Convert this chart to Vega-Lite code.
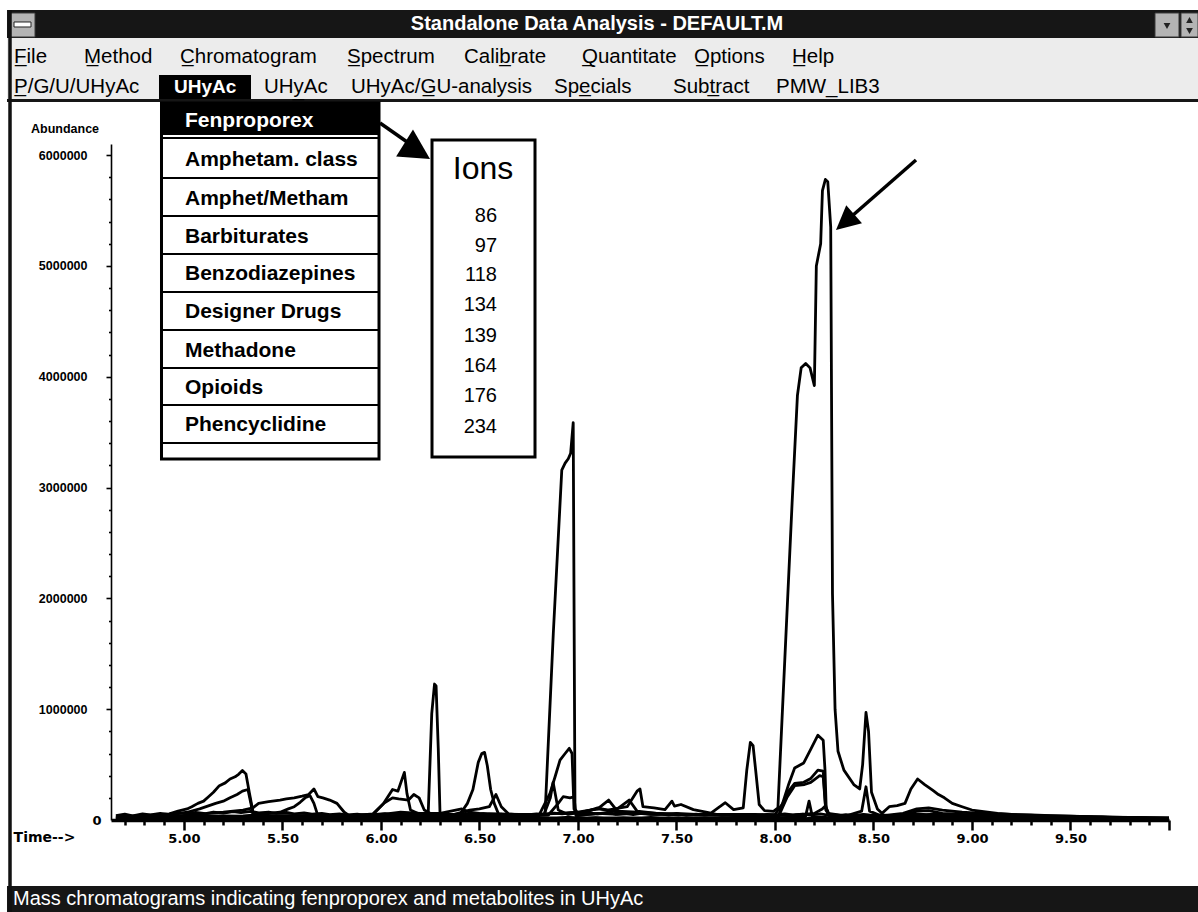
{
  "$schema": "https://vega.github.io/schema/vega-lite/v6.json",
  "width": 1058,
  "height": 676,
  "autosize": {"type": "none"},
  "padding": {"left": 111, "top": 144, "right": 29, "bottom": 92},
  "background": "white",
  "config": {"view": {"stroke": null}, "axis": {"grid": false}},
  "datasets": {
    "chrom": [
      {"ion":"118","t":4.655,"a":30000},{"ion":"118","t":4.70,"a":32000},{"ion":"118","t":4.75,"a":28000},{"ion":"118","t":4.80,"a":35000},{"ion":"118","t":4.85,"a":33000},{"ion":"118","t":4.90,"a":38000},{"ion":"118","t":4.95,"a":34000},{"ion":"118","t":5.00,"a":36000},{"ion":"118","t":5.05,"a":40000},{"ion":"118","t":5.10,"a":35000},{"ion":"118","t":5.20,"a":38000},{"ion":"118","t":5.30,"a":34000},{"ion":"118","t":5.40,"a":40000},{"ion":"118","t":5.50,"a":36000},{"ion":"118","t":5.60,"a":38000},{"ion":"118","t":5.70,"a":35000},{"ion":"118","t":5.80,"a":40000},{"ion":"118","t":5.90,"a":42000},{"ion":"118","t":6.00,"a":45000},{"ion":"118","t":6.10,"a":40000},{"ion":"118","t":6.20,"a":48000},{"ion":"118","t":6.24,"a":56000},{"ion":"118","t":6.258,"a":960000},{"ion":"118","t":6.272,"a":1227000},{"ion":"118","t":6.28,"a":1210000},{"ion":"118","t":6.291,"a":650000},{"ion":"118","t":6.30,"a":56000},{"ion":"118","t":6.35,"a":50000},{"ion":"118","t":6.40,"a":45000},{"ion":"118","t":6.50,"a":52000},{"ion":"118","t":6.60,"a":45000},{"ion":"118","t":6.70,"a":42000},{"ion":"118","t":6.80,"a":45000},{"ion":"118","t":6.833,"a":50000},{"ion":"118","t":6.875,"a":1685000},{"ion":"118","t":6.918,"a":3158000},{"ion":"118","t":6.935,"a":3220000},{"ion":"118","t":6.951,"a":3260000},{"ion":"118","t":6.963,"a":3310000},{"ion":"118","t":6.976,"a":3585000},{"ion":"118","t":6.985,"a":100000},{"ion":"118","t":7.00,"a":60000},{"ion":"118","t":7.05,"a":85000},{"ion":"118","t":7.10,"a":100000},{"ion":"118","t":7.15,"a":90000},{"ion":"118","t":7.20,"a":105000},{"ion":"118","t":7.25,"a":120000},{"ion":"118","t":7.30,"a":260000},{"ion":"118","t":7.315,"a":280000},{"ion":"118","t":7.33,"a":120000},{"ion":"118","t":7.386,"a":110000},{"ion":"118","t":7.442,"a":94000},{"ion":"118","t":7.477,"a":170000},{"ion":"118","t":7.49,"a":125000},{"ion":"118","t":7.523,"a":140000},{"ion":"118","t":7.586,"a":94000},{"ion":"118","t":7.675,"a":62000},{"ion":"118","t":7.748,"a":156000},{"ion":"118","t":7.79,"a":94000},{"ion":"118","t":7.839,"a":110000},{"ion":"118","t":7.857,"a":450000},{"ion":"118","t":7.875,"a":700000},{"ion":"118","t":7.889,"a":670000},{"ion":"118","t":7.902,"a":450000},{"ion":"118","t":7.92,"a":140000},{"ion":"118","t":7.947,"a":84000},{"ion":"118","t":7.993,"a":78000},{"ion":"118","t":8.015,"a":110000},{"ion":"118","t":8.05,"a":1450000},{"ion":"118","t":8.087,"a":2860000},{"ion":"118","t":8.114,"a":3830000},{"ion":"118","t":8.133,"a":4080000},{"ion":"118","t":8.156,"a":4120000},{"ion":"118","t":8.178,"a":4080000},{"ion":"118","t":8.20,"a":3920000},{"ion":"118","t":8.21,"a":5000000},{"ion":"118","t":8.232,"a":5200000},{"ion":"118","t":8.241,"a":5680000},{"ion":"118","t":8.256,"a":5780000},{"ion":"118","t":8.268,"a":5760000},{"ion":"118","t":8.283,"a":5350000},{"ion":"118","t":8.292,"a":2040000},{"ion":"118","t":8.305,"a":1000000},{"ion":"118","t":8.32,"a":620000},{"ion":"118","t":8.35,"a":450000},{"ion":"118","t":8.40,"a":320000},{"ion":"118","t":8.43,"a":280000},{"ion":"118","t":8.445,"a":500000},{"ion":"118","t":8.462,"a":970000},{"ion":"118","t":8.475,"a":800000},{"ion":"118","t":8.49,"a":250000},{"ion":"118","t":8.52,"a":100000},{"ion":"118","t":8.543,"a":60000},{"ion":"118","t":8.58,"a":120000},{"ion":"118","t":8.62,"a":130000},{"ion":"118","t":8.66,"a":150000},{"ion":"118","t":8.69,"a":280000},{"ion":"118","t":8.724,"a":370000},{"ion":"118","t":8.76,"a":320000},{"ion":"118","t":8.80,"a":270000},{"ion":"118","t":8.83,"a":230000},{"ion":"118","t":8.86,"a":200000},{"ion":"118","t":8.90,"a":150000},{"ion":"118","t":8.95,"a":120000},{"ion":"118","t":9.00,"a":90000},{"ion":"118","t":9.06,"a":75000},{"ion":"118","t":9.13,"a":60000},{"ion":"118","t":9.20,"a":50000},{"ion":"118","t":9.30,"a":45000},{"ion":"118","t":9.40,"a":40000},{"ion":"118","t":9.49,"a":35000},{"ion":"118","t":9.58,"a":30000},{"ion":"118","t":9.67,"a":25000},{"ion":"118","t":9.80,"a":20000},{"ion":"118","t":9.90,"a":20000},{"ion":"118","t":10.0,"a":15000},

      {"ion":"86","t":4.655,"a":25000},{"ion":"86","t":4.72,"a":35000},{"ion":"86","t":4.78,"a":40000},{"ion":"86","t":4.85,"a":45000},{"ion":"86","t":4.926,"a":56000},{"ion":"86","t":4.97,"a":80000},{"ion":"86","t":5.016,"a":100000},{"ion":"86","t":5.04,"a":120000},{"ion":"86","t":5.071,"a":150000},{"ion":"86","t":5.10,"a":170000},{"ion":"86","t":5.125,"a":210000},{"ion":"86","t":5.15,"a":250000},{"ion":"86","t":5.18,"a":310000},{"ion":"86","t":5.21,"a":335000},{"ion":"86","t":5.234,"a":370000},{"ion":"86","t":5.26,"a":390000},{"ion":"86","t":5.279,"a":415000},{"ion":"86","t":5.297,"a":446000},{"ion":"86","t":5.315,"a":415000},{"ion":"86","t":5.333,"a":240000},{"ion":"86","t":5.351,"a":70000},{"ion":"86","t":5.38,"a":25000},{"ion":"86","t":5.45,"a":30000},{"ion":"86","t":5.55,"a":35000},{"ion":"86","t":5.65,"a":40000},{"ion":"86","t":5.75,"a":35000},{"ion":"86","t":5.85,"a":30000},{"ion":"86","t":5.95,"a":40000},{"ion":"86","t":6.05,"a":35000},{"ion":"86","t":6.15,"a":40000},{"ion":"86","t":6.25,"a":35000},{"ion":"86","t":6.35,"a":40000},{"ion":"86","t":6.45,"a":35000},{"ion":"86","t":6.55,"a":40000},{"ion":"86","t":6.65,"a":35000},{"ion":"86","t":6.75,"a":40000},{"ion":"86","t":6.85,"a":45000},{"ion":"86","t":6.90,"a":150000},{"ion":"86","t":6.925,"a":210000},{"ion":"86","t":6.96,"a":200000},{"ion":"86","t":6.98,"a":210000},{"ion":"86","t":6.99,"a":40000},{"ion":"86","t":7.05,"a":50000},{"ion":"86","t":7.15,"a":60000},{"ion":"86","t":7.20,"a":100000},{"ion":"86","t":7.26,"a":180000},{"ion":"86","t":7.30,"a":80000},{"ion":"86","t":7.40,"a":60000},{"ion":"86","t":7.50,"a":50000},{"ion":"86","t":7.60,"a":50000},{"ion":"86","t":7.70,"a":50000},{"ion":"86","t":7.80,"a":50000},{"ion":"86","t":7.90,"a":45000},{"ion":"86","t":8.00,"a":40000},{"ion":"86","t":8.10,"a":45000},{"ion":"86","t":8.20,"a":60000},{"ion":"86","t":8.24,"a":100000},{"ion":"86","t":8.254,"a":125000},{"ion":"86","t":8.27,"a":60000},{"ion":"86","t":8.35,"a":40000},{"ion":"86","t":8.45,"a":40000},{"ion":"86","t":8.55,"a":35000},{"ion":"86","t":8.65,"a":40000},{"ion":"86","t":8.72,"a":80000},{"ion":"86","t":8.78,"a":84000},{"ion":"86","t":8.85,"a":60000},{"ion":"86","t":8.95,"a":50000},{"ion":"86","t":9.10,"a":40000},{"ion":"86","t":9.30,"a":35000},{"ion":"86","t":9.50,"a":30000},{"ion":"86","t":9.70,"a":20000},{"ion":"86","t":9.90,"a":15000},{"ion":"86","t":10.0,"a":15000},

      {"ion":"97","t":4.655,"a":20000},{"ion":"97","t":4.80,"a":30000},{"ion":"97","t":4.90,"a":40000},{"ion":"97","t":5.016,"a":70000},{"ion":"97","t":5.08,"a":100000},{"ion":"97","t":5.161,"a":150000},{"ion":"97","t":5.20,"a":170000},{"ion":"97","t":5.234,"a":200000},{"ion":"97","t":5.27,"a":230000},{"ion":"97","t":5.297,"a":260000},{"ion":"97","t":5.325,"a":275000},{"ion":"97","t":5.34,"a":150000},{"ion":"97","t":5.351,"a":40000},{"ion":"97","t":5.40,"a":35000},{"ion":"97","t":5.50,"a":40000},{"ion":"97","t":5.60,"a":40000},{"ion":"97","t":5.70,"a":45000},{"ion":"97","t":5.80,"a":40000},{"ion":"97","t":5.90,"a":45000},{"ion":"97","t":6.00,"a":50000},{"ion":"97","t":6.05,"a":60000},{"ion":"97","t":6.10,"a":70000},{"ion":"97","t":6.20,"a":60000},{"ion":"97","t":6.30,"a":60000},{"ion":"97","t":6.41,"a":100000},{"ion":"97","t":6.45,"a":70000},{"ion":"97","t":6.50,"a":60000},{"ion":"97","t":6.60,"a":55000},{"ion":"97","t":6.70,"a":50000},{"ion":"97","t":6.80,"a":50000},{"ion":"97","t":6.90,"a":60000},{"ion":"97","t":7.00,"a":70000},{"ion":"97","t":7.10,"a":100000},{"ion":"97","t":7.156,"a":180000},{"ion":"97","t":7.20,"a":80000},{"ion":"97","t":7.30,"a":70000},{"ion":"97","t":7.40,"a":60000},{"ion":"97","t":7.50,"a":50000},{"ion":"97","t":7.60,"a":50000},{"ion":"97","t":7.70,"a":45000},{"ion":"97","t":7.80,"a":45000},{"ion":"97","t":7.90,"a":45000},{"ion":"97","t":8.00,"a":50000},{"ion":"97","t":8.04,"a":150000},{"ion":"97","t":8.071,"a":265000},{"ion":"97","t":8.10,"a":330000},{"ion":"97","t":8.146,"a":340000},{"ion":"97","t":8.182,"a":375000},{"ion":"97","t":8.218,"a":450000},{"ion":"97","t":8.245,"a":440000},{"ion":"97","t":8.256,"a":140000},{"ion":"97","t":8.27,"a":50000},{"ion":"97","t":8.35,"a":40000},{"ion":"97","t":8.45,"a":45000},{"ion":"97","t":8.55,"a":40000},{"ion":"97","t":8.65,"a":60000},{"ion":"97","t":8.72,"a":100000},{"ion":"97","t":8.78,"a":110000},{"ion":"97","t":8.85,"a":90000},{"ion":"97","t":8.95,"a":70000},{"ion":"97","t":9.05,"a":60000},{"ion":"97","t":9.20,"a":50000},{"ion":"97","t":9.35,"a":40000},{"ion":"97","t":9.50,"a":35000},{"ion":"97","t":9.70,"a":25000},{"ion":"97","t":9.90,"a":20000},{"ion":"97","t":10.0,"a":20000},

      {"ion":"134","t":4.655,"a":10000},{"ion":"134","t":4.90,"a":20000},{"ion":"134","t":5.00,"a":40000},{"ion":"134","t":5.10,"a":55000},{"ion":"134","t":5.20,"a":70000},{"ion":"134","t":5.30,"a":90000},{"ion":"134","t":5.35,"a":110000},{"ion":"134","t":5.379,"a":150000},{"ion":"134","t":5.43,"a":165000},{"ion":"134","t":5.488,"a":180000},{"ion":"134","t":5.52,"a":190000},{"ion":"134","t":5.56,"a":200000},{"ion":"134","t":5.60,"a":215000},{"ion":"134","t":5.633,"a":230000},{"ion":"134","t":5.66,"a":280000},{"ion":"134","t":5.68,"a":210000},{"ion":"134","t":5.705,"a":200000},{"ion":"134","t":5.74,"a":180000},{"ion":"134","t":5.777,"a":150000},{"ion":"134","t":5.814,"a":70000},{"ion":"134","t":5.85,"a":25000},{"ion":"134","t":5.90,"a":20000},{"ion":"134","t":6.00,"a":20000},{"ion":"134","t":6.20,"a":20000},{"ion":"134","t":6.40,"a":20000},{"ion":"134","t":6.60,"a":20000},{"ion":"134","t":6.80,"a":20000},{"ion":"134","t":7.00,"a":20000},{"ion":"134","t":7.20,"a":20000},{"ion":"134","t":7.40,"a":20000},{"ion":"134","t":7.60,"a":20000},{"ion":"134","t":7.80,"a":20000},{"ion":"134","t":8.00,"a":20000},{"ion":"134","t":8.155,"a":30000},{"ion":"134","t":8.173,"a":170000},{"ion":"134","t":8.19,"a":30000},{"ion":"134","t":8.30,"a":20000},{"ion":"134","t":8.50,"a":20000},{"ion":"134","t":8.70,"a":20000},{"ion":"134","t":9.00,"a":20000},{"ion":"134","t":9.50,"a":15000},{"ion":"134","t":10.0,"a":15000},

      {"ion":"139","t":4.655,"a":20000},{"ion":"139","t":4.90,"a":25000},{"ion":"139","t":5.10,"a":30000},{"ion":"139","t":5.30,"a":35000},{"ion":"139","t":5.488,"a":70000},{"ion":"139","t":5.53,"a":100000},{"ion":"139","t":5.56,"a":120000},{"ion":"139","t":5.59,"a":160000},{"ion":"139","t":5.615,"a":200000},{"ion":"139","t":5.64,"a":220000},{"ion":"139","t":5.66,"a":150000},{"ion":"139","t":5.68,"a":40000},{"ion":"139","t":5.80,"a":30000},{"ion":"139","t":5.96,"a":50000},{"ion":"139","t":6.014,"a":150000},{"ion":"139","t":6.059,"a":200000},{"ion":"139","t":6.09,"a":190000},{"ion":"139","t":6.14,"a":180000},{"ion":"139","t":6.167,"a":230000},{"ion":"139","t":6.194,"a":200000},{"ion":"139","t":6.22,"a":90000},{"ion":"139","t":6.26,"a":50000},{"ion":"139","t":6.35,"a":40000},{"ion":"139","t":6.45,"a":90000},{"ion":"139","t":6.50,"a":100000},{"ion":"139","t":6.55,"a":120000},{"ion":"139","t":6.584,"a":230000},{"ion":"139","t":6.611,"a":120000},{"ion":"139","t":6.647,"a":56000},{"ion":"139","t":6.75,"a":40000},{"ion":"139","t":6.829,"a":56000},{"ion":"139","t":6.86,"a":200000},{"ion":"139","t":6.874,"a":340000},{"ion":"139","t":6.90,"a":90000},{"ion":"139","t":6.95,"a":50000},{"ion":"139","t":7.05,"a":80000},{"ion":"139","t":7.10,"a":110000},{"ion":"139","t":7.20,"a":70000},{"ion":"139","t":7.30,"a":60000},{"ion":"139","t":7.40,"a":50000},{"ion":"139","t":7.50,"a":50000},{"ion":"139","t":7.60,"a":45000},{"ion":"139","t":7.70,"a":45000},{"ion":"139","t":7.80,"a":40000},{"ion":"139","t":7.90,"a":40000},{"ion":"139","t":8.02,"a":40000},{"ion":"139","t":8.06,"a":200000},{"ion":"139","t":8.10,"a":310000},{"ion":"139","t":8.15,"a":320000},{"ion":"139","t":8.182,"a":340000},{"ion":"139","t":8.227,"a":400000},{"ion":"139","t":8.245,"a":390000},{"ion":"139","t":8.258,"a":90000},{"ion":"139","t":8.28,"a":30000},{"ion":"139","t":8.40,"a":30000},{"ion":"139","t":8.60,"a":30000},{"ion":"139","t":8.80,"a":35000},{"ion":"139","t":9.00,"a":30000},{"ion":"139","t":9.50,"a":20000},{"ion":"139","t":10.0,"a":15000},

      {"ion":"164","t":4.655,"a":15000},{"ion":"164","t":5.00,"a":20000},{"ion":"164","t":5.40,"a":25000},{"ion":"164","t":5.80,"a":30000},{"ion":"164","t":5.96,"a":56000},{"ion":"164","t":6.014,"a":150000},{"ion":"164","t":6.059,"a":275000},{"ion":"164","t":6.086,"a":260000},{"ion":"164","t":6.119,"a":430000},{"ion":"164","t":6.132,"a":240000},{"ion":"164","t":6.15,"a":90000},{"ion":"164","t":6.20,"a":50000},{"ion":"164","t":6.30,"a":40000},{"ion":"164","t":6.403,"a":56000},{"ion":"164","t":6.439,"a":150000},{"ion":"164","t":6.467,"a":275000},{"ion":"164","t":6.494,"a":520000},{"ion":"164","t":6.512,"a":600000},{"ion":"164","t":6.526,"a":610000},{"ion":"164","t":6.54,"a":490000},{"ion":"164","t":6.557,"a":275000},{"ion":"164","t":6.575,"a":150000},{"ion":"164","t":6.60,"a":40000},{"ion":"164","t":6.70,"a":35000},{"ion":"164","t":6.80,"a":35000},{"ion":"164","t":6.858,"a":240000},{"ion":"164","t":6.884,"a":390000},{"ion":"164","t":6.909,"a":540000},{"ion":"164","t":6.935,"a":600000},{"ion":"164","t":6.956,"a":647000},{"ion":"164","t":6.97,"a":600000},{"ion":"164","t":6.98,"a":100000},{"ion":"164","t":7.00,"a":40000},{"ion":"164","t":7.10,"a":60000},{"ion":"164","t":7.20,"a":50000},{"ion":"164","t":7.30,"a":60000},{"ion":"164","t":7.40,"a":50000},{"ion":"164","t":7.50,"a":60000},{"ion":"164","t":7.60,"a":50000},{"ion":"164","t":7.70,"a":50000},{"ion":"164","t":7.80,"a":50000},{"ion":"164","t":7.90,"a":50000},{"ion":"164","t":8.017,"a":30000},{"ion":"164","t":8.071,"a":330000},{"ion":"164","t":8.10,"a":470000},{"ion":"164","t":8.146,"a":515000},{"ion":"164","t":8.182,"a":640000},{"ion":"164","t":8.218,"a":765000},{"ion":"164","t":8.245,"a":720000},{"ion":"164","t":8.254,"a":450000},{"ion":"164","t":8.26,"a":110000},{"ion":"164","t":8.28,"a":30000},{"ion":"164","t":8.35,"a":30000},{"ion":"164","t":8.44,"a":80000},{"ion":"164","t":8.462,"a":300000},{"ion":"164","t":8.48,"a":80000},{"ion":"164","t":8.55,"a":30000},{"ion":"164","t":8.70,"a":40000},{"ion":"164","t":8.80,"a":50000},{"ion":"164","t":9.00,"a":40000},{"ion":"164","t":9.50,"a":30000},{"ion":"164","t":10.0,"a":20000},

      {"ion":"176","t":4.655,"a":40000},{"ion":"176","t":4.70,"a":52000},{"ion":"176","t":4.74,"a":38000},{"ion":"176","t":4.79,"a":55000},{"ion":"176","t":4.83,"a":47000},{"ion":"176","t":4.88,"a":60000},{"ion":"176","t":4.92,"a":50000},{"ion":"176","t":4.97,"a":62000},{"ion":"176","t":5.02,"a":55000},{"ion":"176","t":5.06,"a":68000},{"ion":"176","t":5.11,"a":58000},{"ion":"176","t":5.15,"a":72000},{"ion":"176","t":5.20,"a":63000},{"ion":"176","t":5.25,"a":76000},{"ion":"176","t":5.29,"a":66000},{"ion":"176","t":5.34,"a":78000},{"ion":"176","t":5.38,"a":64000},{"ion":"176","t":5.43,"a":72000},{"ion":"176","t":5.47,"a":60000},{"ion":"176","t":5.52,"a":68000},{"ion":"176","t":5.56,"a":55000},{"ion":"176","t":5.61,"a":64000},{"ion":"176","t":5.65,"a":52000},{"ion":"176","t":5.70,"a":60000},{"ion":"176","t":5.74,"a":48000},{"ion":"176","t":5.79,"a":56000},{"ion":"176","t":5.83,"a":45000},{"ion":"176","t":5.88,"a":52000},{"ion":"176","t":5.92,"a":42000},{"ion":"176","t":5.97,"a":50000},{"ion":"176","t":6.02,"a":58000},{"ion":"176","t":6.06,"a":46000},{"ion":"176","t":6.11,"a":60000},{"ion":"176","t":6.15,"a":50000},{"ion":"176","t":6.20,"a":44000},{"ion":"176","t":6.25,"a":55000},{"ion":"176","t":6.29,"a":42000},{"ion":"176","t":6.34,"a":52000},{"ion":"176","t":6.38,"a":47000},{"ion":"176","t":6.43,"a":60000},{"ion":"176","t":6.47,"a":50000},{"ion":"176","t":6.52,"a":58000},{"ion":"176","t":6.56,"a":45000},{"ion":"176","t":6.61,"a":52000},{"ion":"176","t":6.65,"a":42000},{"ion":"176","t":6.70,"a":50000},{"ion":"176","t":6.74,"a":45000},{"ion":"176","t":6.79,"a":56000},{"ion":"176","t":6.83,"a":50000},{"ion":"176","t":6.88,"a":62000},{"ion":"176","t":6.92,"a":55000},{"ion":"176","t":6.97,"a":66000},{"ion":"176","t":7.01,"a":52000},{"ion":"176","t":7.06,"a":64000},{"ion":"176","t":7.10,"a":55000},{"ion":"176","t":7.15,"a":68000},{"ion":"176","t":7.19,"a":52000},{"ion":"176","t":7.24,"a":60000},{"ion":"176","t":7.28,"a":48000},{"ion":"176","t":7.33,"a":62000},{"ion":"176","t":7.37,"a":50000},{"ion":"176","t":7.42,"a":56000},{"ion":"176","t":7.46,"a":45000},{"ion":"176","t":7.51,"a":54000},{"ion":"176","t":7.55,"a":42000},{"ion":"176","t":7.60,"a":52000},{"ion":"176","t":7.64,"a":45000},{"ion":"176","t":7.69,"a":55000},{"ion":"176","t":7.73,"a":42000},{"ion":"176","t":7.78,"a":50000},{"ion":"176","t":7.82,"a":40000},{"ion":"176","t":7.87,"a":48000},{"ion":"176","t":7.91,"a":42000},{"ion":"176","t":7.96,"a":50000},{"ion":"176","t":8.00,"a":45000},{"ion":"176","t":8.05,"a":55000},{"ion":"176","t":8.09,"a":46000},{"ion":"176","t":8.14,"a":52000},{"ion":"176","t":8.18,"a":44000},{"ion":"176","t":8.23,"a":56000},{"ion":"176","t":8.27,"a":45000},{"ion":"176","t":8.32,"a":40000},{"ion":"176","t":8.36,"a":48000},{"ion":"176","t":8.41,"a":40000},{"ion":"176","t":8.45,"a":50000},{"ion":"176","t":8.50,"a":38000},{"ion":"176","t":8.54,"a":46000},{"ion":"176","t":8.59,"a":40000},{"ion":"176","t":8.63,"a":50000},{"ion":"176","t":8.68,"a":44000},{"ion":"176","t":8.72,"a":56000},{"ion":"176","t":8.77,"a":48000},{"ion":"176","t":8.81,"a":52000},{"ion":"176","t":8.86,"a":42000},{"ion":"176","t":8.90,"a":46000},{"ion":"176","t":8.95,"a":38000},{"ion":"176","t":9.00,"a":42000},{"ion":"176","t":9.05,"a":34000},{"ion":"176","t":9.10,"a":38000},{"ion":"176","t":9.16,"a":30000},{"ion":"176","t":9.22,"a":35000},{"ion":"176","t":9.28,"a":28000},{"ion":"176","t":9.35,"a":32000},{"ion":"176","t":9.42,"a":25000},{"ion":"176","t":9.50,"a":29000},{"ion":"176","t":9.58,"a":22000},{"ion":"176","t":9.66,"a":26000},{"ion":"176","t":9.74,"a":19000},{"ion":"176","t":9.82,"a":22000},{"ion":"176","t":9.90,"a":15000},{"ion":"176","t":10.0,"a":14000},

      {"ion":"234","t":4.655,"a":8000},{"ion":"234","t":4.72,"a":18000},{"ion":"234","t":4.78,"a":6000},{"ion":"234","t":4.85,"a":20000},{"ion":"234","t":4.92,"a":9000},{"ion":"234","t":4.99,"a":22000},{"ion":"234","t":5.06,"a":10000},{"ion":"234","t":5.13,"a":24000},{"ion":"234","t":5.20,"a":12000},{"ion":"234","t":5.27,"a":20000},{"ion":"234","t":5.34,"a":8000},{"ion":"234","t":5.41,"a":18000},{"ion":"234","t":5.48,"a":10000},{"ion":"234","t":5.55,"a":22000},{"ion":"234","t":5.62,"a":9000},{"ion":"234","t":5.69,"a":19000},{"ion":"234","t":5.76,"a":7000},{"ion":"234","t":5.83,"a":18000},{"ion":"234","t":5.90,"a":9000},{"ion":"234","t":5.97,"a":20000},{"ion":"234","t":6.04,"a":11000},{"ion":"234","t":6.11,"a":23000},{"ion":"234","t":6.18,"a":10000},{"ion":"234","t":6.25,"a":19000},{"ion":"234","t":6.32,"a":8000},{"ion":"234","t":6.39,"a":21000},{"ion":"234","t":6.46,"a":10000},{"ion":"234","t":6.53,"a":24000},{"ion":"234","t":6.60,"a":9000},{"ion":"234","t":6.67,"a":18000},{"ion":"234","t":6.74,"a":8000},{"ion":"234","t":6.81,"a":20000},{"ion":"234","t":6.88,"a":12000},{"ion":"234","t":6.95,"a":25000},{"ion":"234","t":7.02,"a":10000},{"ion":"234","t":7.09,"a":22000},{"ion":"234","t":7.16,"a":9000},{"ion":"234","t":7.23,"a":20000},{"ion":"234","t":7.30,"a":11000},{"ion":"234","t":7.37,"a":23000},{"ion":"234","t":7.44,"a":9000},{"ion":"234","t":7.51,"a":19000},{"ion":"234","t":7.58,"a":8000},{"ion":"234","t":7.65,"a":17000},{"ion":"234","t":7.72,"a":7000},{"ion":"234","t":7.79,"a":18000},{"ion":"234","t":7.86,"a":9000},{"ion":"234","t":7.93,"a":16000},{"ion":"234","t":8.00,"a":8000},{"ion":"234","t":8.07,"a":19000},{"ion":"234","t":8.14,"a":10000},{"ion":"234","t":8.21,"a":21000},{"ion":"234","t":8.28,"a":9000},{"ion":"234","t":8.35,"a":17000},{"ion":"234","t":8.42,"a":8000},{"ion":"234","t":8.49,"a":18000},{"ion":"234","t":8.56,"a":7000},{"ion":"234","t":8.63,"a":16000},{"ion":"234","t":8.70,"a":9000},{"ion":"234","t":8.77,"a":18000},{"ion":"234","t":8.84,"a":8000},{"ion":"234","t":8.91,"a":15000},{"ion":"234","t":8.98,"a":7000},{"ion":"234","t":9.05,"a":14000},{"ion":"234","t":9.12,"a":6000},{"ion":"234","t":9.20,"a":13000},{"ion":"234","t":9.28,"a":6000},{"ion":"234","t":9.36,"a":12000},{"ion":"234","t":9.44,"a":5000},{"ion":"234","t":9.52,"a":11000},{"ion":"234","t":9.60,"a":5000},{"ion":"234","t":9.70,"a":10000},{"ion":"234","t":9.80,"a":5000},{"ion":"234","t":9.90,"a":9000},{"ion":"234","t":10.0,"a":6000}
    ],
    "menuBg": [{"t": 4.1021, "t2": 10.1472, "a": 7056510, "a2": 6506066}],
    "darkBars": [
      {"t": 4.1021, "t2": 10.1472, "a": 7309173, "a2": 7056510},
      {"t": 4.1021, "t2": 10.1472, "a": 6506066, "a2": 6478995},
      {"t": 4.1021, "t2": 10.1472, "a": -595562, "a2": -830178}
    ],
    "winButtons": [
      {"t": 4.1174, "t2": 4.2443, "a": 7282102, "a2": 7065534},
      {"t": 9.9289, "t2": 10.0507, "a": 7282102, "a2": 7065534},
      {"t": 10.0609, "t2": 10.1472, "a": 7282102, "a2": 7065534}
    ],
    "sysBar": [{"t": 4.1377, "t2": 4.2239, "a": 7200889, "a2": 7155770}],
    "triDown": [{"t": 9.9898, "a": 7164794}, {"t": 10.1040, "a": 7119676}],
    "triUp": [{"t": 10.1040, "a": 7218936}],
    "leftBorder": [{"t": 4.1174, "a": 7309173, "a2": -830178}],
    "boxes": [
      {"t": 4.8863, "t2": 5.9903, "a": 6469971, "a2": 3257545},
      {"t": 6.2593, "t2": 6.7821, "a": 6136096, "a2": 3275592}
    ],
    "blackRects": [
      {"t": 4.8736, "t2": 5.3406, "a": 6722634, "a2": 6506066},
      {"t": 4.8863, "t2": 5.9903, "a": 6478995, "a2": 6181214}
    ],
    "separators": [
      {"t": 4.8863, "t2": 5.9903, "a": 6154143},
      {"t": 4.8863, "t2": 5.9903, "a": 5793196},
      {"t": 4.8863, "t2": 5.9903, "a": 5450297},
      {"t": 4.8863, "t2": 5.9903, "a": 5107397},
      {"t": 4.8863, "t2": 5.9903, "a": 4764498},
      {"t": 4.8863, "t2": 5.9903, "a": 4421598},
      {"t": 4.8863, "t2": 5.9903, "a": 4078699},
      {"t": 4.8863, "t2": 5.9903, "a": 3744823},
      {"t": 4.8863, "t2": 5.9903, "a": 3401924}
    ],
    "arrowLines": [
      {"t": 5.9953, "a": 6289498, "t2": 6.1476, "a2": 6100001},
      {"t": 8.7159, "a": 5955622, "t2": 8.3910, "a2": 5450297}
    ],
    "arrowHead1": [{"t": 6.2491, "a": 5964646}],
    "arrowHead2": [{"t": 8.3098, "a": 5323965}],
    "titleText": [{"t": 7.0966, "a": 7178330, "label": "Standalone Data Analysis - DEFAULT.M"}],
    "menuText": [
      {"t": 4.1377, "a": 6885060, "label": "F\u0332ile"},
      {"t": 4.4930, "a": 6885060, "label": "M\u0332ethod"},
      {"t": 4.9802, "a": 6885060, "label": "C\u0332hromatogram"},
      {"t": 5.8278, "a": 6885060, "label": "S\u0332pectrum"},
      {"t": 6.4217, "a": 6885060, "label": "Calib\u0332rate"},
      {"t": 7.0206, "a": 6885060, "label": "Q\u0332uantitate"},
      {"t": 7.5891, "a": 6885060, "label": "O\u0332ptions"},
      {"t": 8.0865, "a": 6885060, "label": "H\u0332elp"},
      {"t": 4.1377, "a": 6614350, "label": "P\u0332/G/U/UHyAc"},
      {"t": 5.4066, "a": 6614350, "label": "UHy\u0332Ac"},
      {"t": 5.8481, "a": 6614350, "label": "UHyAc/G\u0332U-analysis"},
      {"t": 6.8785, "a": 6614350, "label": "Spe\u0332cials"},
      {"t": 7.4825, "a": 6614350, "label": "Subt\u0332ract"},
      {"t": 8.0053, "a": 6614350, "label": "PMW_LIB3"}
    ],
    "tabText": [{"t": 4.9498, "a": 6614350, "label": "UHyAc"}],
    "ddSel": [{"t": 5.0056, "a": 6307545, "label": "Fenproporex"}],
    "ddItems": [
      {"t": 5.0056, "a": 5955622, "label": "Amphetam. class"},
      {"t": 5.0056, "a": 5603699, "label": "Amphet/Metham"},
      {"t": 5.0056, "a": 5260800, "label": "Barbiturates"},
      {"t": 5.0056, "a": 4926924, "label": "Benzodiazepines"},
      {"t": 5.0056, "a": 4583024, "label": "Designer Drugs"},
      {"t": 5.0056, "a": 4232101, "label": "Methadone"},
      {"t": 5.0056, "a": 3898225, "label": "Opioids"},
      {"t": 5.0056, "a": 3564350, "label": "Phencyclidine"}
    ],
    "ionsTitle": [{"t": 6.5181, "a": 5874409, "label": "Ions"}],
    "ionsNums": [
      {"t": 6.5892, "a": 5450297, "label": "86"},
      {"t": 6.5892, "a": 5179587, "label": "97"},
      {"t": 6.5892, "a": 4917900, "label": "118"},
      {"t": 6.5892, "a": 4647190, "label": "134"},
      {"t": 6.5892, "a": 4367456, "label": "139"},
      {"t": 6.5892, "a": 4096746, "label": "164"},
      {"t": 6.5892, "a": 3826036, "label": "176"},
      {"t": 6.5892, "a": 3546302, "label": "234"}
    ],
    "caption": [{"t": 4.1326, "a": -712870, "label": "Mass chromatograms indicating fenproporex and metabolites in UHyAc"}]
  },
  "encoding": {
    "x": {
      "field": "t",
      "type": "quantitative",
      "scale": {"domain": [4.63, 10.0], "nice": false, "zero": false},
      "axis": {
        "values": [4.7,4.8,4.9,5.0,5.1,5.2,5.3,5.4,5.5,5.6,5.7,5.8,5.9,6.0,6.1,6.2,6.3,6.4,6.5,6.6,6.7,6.8,6.9,7.0,7.1,7.2,7.3,7.4,7.5,7.6,7.7,7.8,7.9,8.0,8.1,8.2,8.3,8.4,8.5,8.6,8.7,8.8,8.9,9.0,9.1,9.2,9.3,9.4,9.5,9.6,9.7,9.8,9.9,10.0],
        "labelExpr": "(round(datum.value*10) % 5 == 0 && datum.value < 9.95) ? format(datum.value, '.2f') : ''",
        "grid": false,
        "domain": true,
        "domainColor": "black",
        "domainWidth": 3.5,
        "tickColor": "black",
        "tickWidth": 2.5,
        "tickSize": {"condition": {"test": "round(datum.value*10) % 5 == 0", "value": 10}, "value": 5},
        "labelFont": "DejaVu Sans",
        "labelFontWeight": "bold",
        "labelFontSize": 13,
        "labelColor": "black",
        "labelPadding": 2,
        "labelAngle": 0,
        "labelOverlap": false,
        "labelBound": false,
        "labelFlush": false,
        "title": "Time-->",
        "titleX": -67,
        "titleY": 17,
        "titleAlign": "center",
        "titleBaseline": "middle",
        "titleFont": "DejaVu Sans",
        "titleFontWeight": "bold",
        "titleFontSize": 14,
        "titleColor": "black"
      }
    },
    "y": {
      "field": "a",
      "type": "quantitative",
      "scale": {"domain": [0, 6100000], "nice": false, "zero": false},
      "axis": {
        "values": [0,200000,400000,600000,800000,1000000,1200000,1400000,1600000,1800000,2000000,2200000,2400000,2600000,2800000,3000000,3200000,3400000,3600000,3800000,4000000,4200000,4400000,4600000,4800000,5000000,5200000,5400000,5600000,5800000,6000000],
        "labelExpr": "datum.value % 1000000 == 0 ? format(datum.value, 'd') : ''",
        "grid": false,
        "domain": true,
        "domainColor": "black",
        "domainWidth": 1.6,
        "tickColor": "black",
        "tickWidth": 1.6,
        "tickSize": {"condition": [{"test": "datum.value == 0", "value": 0}, {"test": "datum.value % 1000000 == 0", "value": 5}], "value": 2.5},
        "labelFont": {"condition": {"test": "datum.value == 0", "value": "DejaVu Sans"}, "value": "Liberation Sans"},
        "labelFontSize": {"condition": {"test": "datum.value == 0", "value": 13}, "value": 12.5},
        "labelFontWeight": "bold",
        "labelColor": "black",
        "labelPadding": {"condition": {"test": "datum.value == 0", "value": 10}, "value": 19},
        "labelOverlap": false,
        "labelBound": false,
        "labelFlush": false,
        "title": "Abundance",
        "titleAngle": 0,
        "titleX": -46.5,
        "titleY": -16,
        "titleAlign": "center",
        "titleBaseline": "middle",
        "titleFont": "Liberation Sans",
        "titleFontWeight": "bold",
        "titleFontSize": 12.5,
        "titleColor": "black"
      }
    }
  },
  "layer": [
    {"data": {"name": "menuBg"}, "mark": {"type": "rect", "fill": "#ececec"}, "encoding": {"x2": {"field": "t2"}, "y2": {"field": "a2"}}},
    {"data": {"name": "darkBars"}, "mark": {"type": "rect", "fill": "#161616"}, "encoding": {"x2": {"field": "t2"}, "y2": {"field": "a2"}}},
    {"data": {"name": "winButtons"}, "mark": {"type": "rect", "fill": "#b4b4b4", "stroke": "#3a3a3a", "strokeWidth": 1}, "encoding": {"x2": {"field": "t2"}, "y2": {"field": "a2"}}},
    {"data": {"name": "sysBar"}, "mark": {"type": "rect", "fill": "white", "stroke": "#222222", "strokeWidth": 1}, "encoding": {"x2": {"field": "t2"}, "y2": {"field": "a2"}}},
    {"data": {"name": "triDown"}, "mark": {"type": "point", "shape": "triangle-down", "filled": true, "color": "#222222", "opacity": 1, "size": 45}},
    {"data": {"name": "triUp"}, "mark": {"type": "point", "shape": "triangle-up", "filled": true, "color": "#222222", "opacity": 1, "size": 45}},
    {"data": {"name": "leftBorder"}, "mark": {"type": "rule", "color": "#111111", "strokeWidth": 3.5}, "encoding": {"y2": {"field": "a2"}}},
    {"data": {"name": "chrom"}, "mark": {"type": "line", "color": "black", "strokeWidth": 2.8, "strokeJoin": "round"}, "encoding": {"detail": {"field": "ion", "type": "nominal"}}},
    {"data": {"name": "boxes"}, "mark": {"type": "rect", "fill": "white", "stroke": "black", "strokeWidth": 3}, "encoding": {"x2": {"field": "t2"}, "y2": {"field": "a2"}}},
    {"data": {"name": "blackRects"}, "mark": {"type": "rect", "fill": "black"}, "encoding": {"x2": {"field": "t2"}, "y2": {"field": "a2"}}},
    {"data": {"name": "separators"}, "mark": {"type": "rule", "color": "black", "strokeWidth": 2}, "encoding": {"x2": {"field": "t2"}}},
    {"data": {"name": "arrowLines"}, "mark": {"type": "rule", "color": "black", "strokeWidth": 3.5}, "encoding": {"x2": {"field": "t2"}, "y2": {"field": "a2"}}},
    {"data": {"name": "arrowHead1"}, "mark": {"type": "point", "shape": "M0,0L-2,-1.06L-2,1.06Z", "filled": true, "color": "black", "opacity": 1, "size": 900, "angle": 32}},
    {"data": {"name": "arrowHead2"}, "mark": {"type": "point", "shape": "M0,0L-2,-1L-2,1Z", "filled": true, "color": "black", "opacity": 1, "size": 576, "angle": 139}},
    {"data": {"name": "titleText"}, "mark": {"type": "text", "font": "Liberation Sans", "fontWeight": "bold", "fontSize": 20, "color": "white", "align": "center", "baseline": "middle"}, "encoding": {"text": {"field": "label"}}},
    {"data": {"name": "menuText"}, "mark": {"type": "text", "font": "Liberation Sans", "fontSize": 20.5, "color": "#000000", "align": "left", "baseline": "middle"}, "encoding": {"text": {"field": "label"}}},
    {"data": {"name": "tabText"}, "mark": {"type": "text", "font": "Liberation Sans", "fontWeight": "bold", "fontSize": 19, "color": "white", "align": "left", "baseline": "middle"}, "encoding": {"text": {"field": "label"}}},
    {"data": {"name": "ddSel"}, "mark": {"type": "text", "font": "Liberation Sans", "fontWeight": "bold", "fontSize": 21, "color": "white", "align": "left", "baseline": "middle"}, "encoding": {"text": {"field": "label"}}},
    {"data": {"name": "ddItems"}, "mark": {"type": "text", "font": "Liberation Sans", "fontWeight": "bold", "fontSize": 21, "color": "black", "align": "left", "baseline": "middle"}, "encoding": {"text": {"field": "label"}}},
    {"data": {"name": "ionsTitle"}, "mark": {"type": "text", "font": "Liberation Sans", "fontSize": 32, "color": "black", "align": "center", "baseline": "middle"}, "encoding": {"text": {"field": "label"}}},
    {"data": {"name": "ionsNums"}, "mark": {"type": "text", "font": "Liberation Sans", "fontSize": 20, "color": "black", "align": "right", "baseline": "middle"}, "encoding": {"text": {"field": "label"}}},
    {"data": {"name": "caption"}, "mark": {"type": "text", "font": "Liberation Sans", "fontSize": 20, "color": "white", "align": "left", "baseline": "middle"}, "encoding": {"text": {"field": "label"}}}
  ]
}
